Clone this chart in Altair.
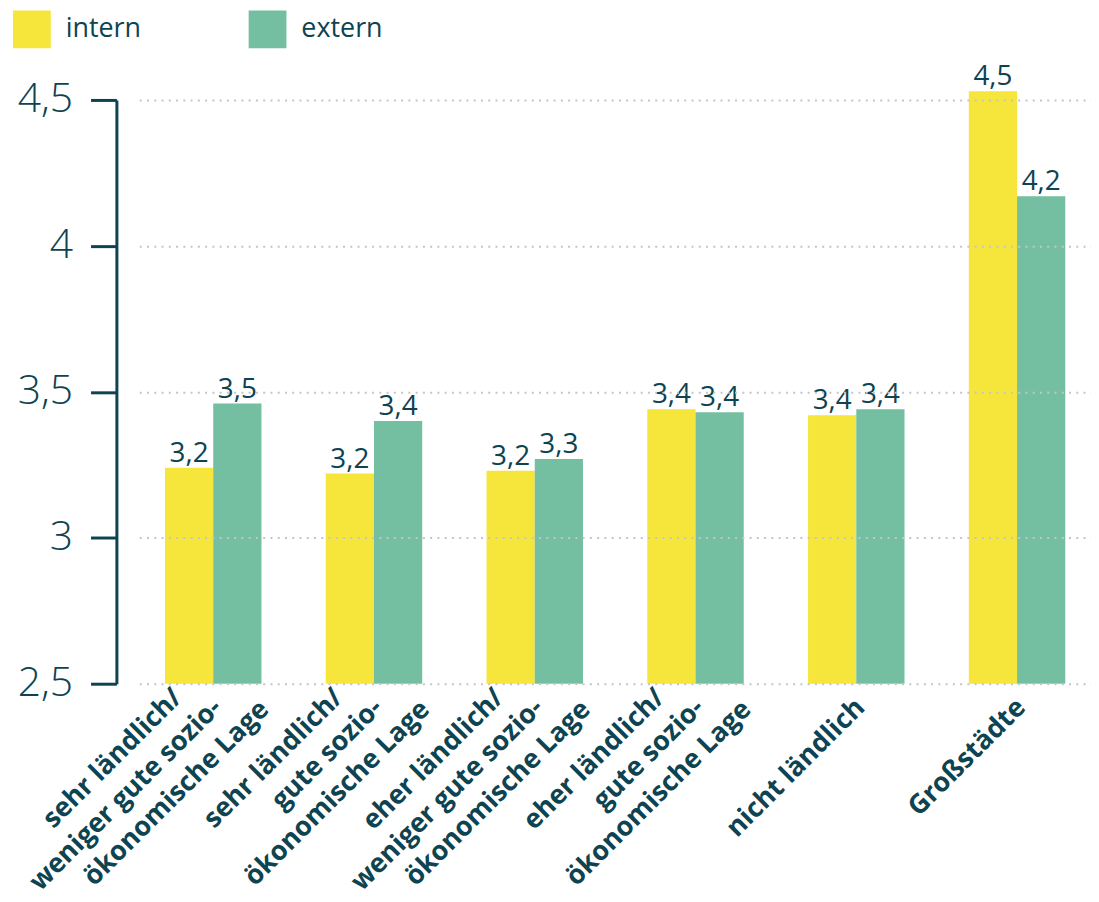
import altair as alt
import pandas as pd

# ---- data ----
label_lines = [
    ["sehr ländlich/", "weniger gute sozio-", "ökonomische Lage"],
    ["sehr ländlich/", "gute sozio-", "ökonomische Lage"],
    ["eher ländlich/", "weniger gute sozio-", "ökonomische Lage"],
    ["eher ländlich/", "gute sozio-", "ökonomische Lage"],
    ["nicht ländlich"],
    ["Großstädte"],
]
categories = [" ".join(l) for l in label_lines]
series = ["intern", "extern"]
intern = [3.24, 3.22, 3.23, 3.44, 3.42, 4.53]
extern = [3.46, 3.40, 3.27, 3.43, 3.44, 4.17]
y_ticks = [2.5, 3, 3.5, 4, 4.5]

colors = ["#F6E53B", "#74BFA1"]
ink = "#0E4351"

rows = []
for c, a, b in zip(categories, intern, extern):
    rows.append({"cat": c, "serie": "intern", "value": a})
    rows.append({"cat": c, "serie": "extern", "value": b})
df = pd.DataFrame(rows)

lrows = []
for c, lines in zip(categories, label_lines):
    if len(lines) == 1:
        lrows.append({"cat": c, "line": 1, "text": lines[0]})
    else:
        for i, t in enumerate(lines):
            lrows.append({"cat": c, "line": i, "text": t})
ldf = pd.DataFrame(lrows)

W, H = 957, 587

xscale = alt.Scale(domain=categories, paddingInner=0.40, paddingOuter=0.16)
x = alt.X("cat:N", sort=categories, scale=xscale, axis=None)
xo = alt.XOffset("serie:N", sort=series, scale=alt.Scale(domain=series, paddingInner=0, paddingOuter=0))
y = alt.Y(
    "value:Q",
    scale=alt.Scale(domain=[2.5, 4.5], nice=False, zero=False),
    axis=alt.Axis(
        values=y_ticks,
        format="~g",
        labelExpr="replace(datum.label, '.', ',')",
        title=None,
        grid=True,
        gridDash=[2, 5.3],
        gridColor="#c2c6c8",
        gridWidth=2,
        domainColor=ink,
        domainWidth=3,
        tickColor=ink,
        tickWidth=3,
        tickSize=26,
        offset=23,
        labelFont="Open Sans",
        labelFontWeight=300,
        labelFontSize=41,
        labelColor=ink,
        labelPadding=18,
        zindex=1,
    ),
)

base = alt.Chart(df)

bars = base.mark_bar(clip=False).encode(
    x=x,
    xOffset=xo,
    y=y,
    y2=alt.datum(2.5),
    color=alt.Color(
        "serie:N",
        sort=series,
        scale=alt.Scale(domain=series, range=colors),
        legend=alt.Legend(
            title=None,
            orient="none",
            direction="horizontal",
            legendX=-127,
            legendY=-90,
            symbolType="square",
            symbolSize=1444,
            symbolStrokeWidth=0,
            symbolOpacity=1,
            labelFont="Open Sans",
            labelFontSize=27,
            labelColor=ink,
            labelOffset=15,
            columnPadding=108,
            padding=0,
        ),
    ),
)

values = base.transform_calculate(
    lbl="replace(format(datum.value, '.1f'), '.', ',')"
).mark_text(
    baseline="alphabetic", align="center", dy=-6, font="Open Sans", fontSize=28, color=ink
).encode(x=x, xOffset=xo, y=y, text="lbl:N")

label_layers = []
offsets = {0: (-32, -18), 1: (-11, 17), 2: (21, 52)}
for i, (ddx, ddy) in offsets.items():
    label_layers.append(
        alt.Chart(ldf)
        .transform_filter(alt.datum.line == i)
        .mark_text(
            angle=315,
            align="right",
            baseline="middle",
            font="Open Sans",
            fontWeight="bold",
            fontSize=27,
            color=ink,
            dx=ddx,
            dy=ddy,
        )
        .encode(x=x, y=alt.value(H), text="text:N")
    )

chart = (
    alt.layer(bars, values, *label_layers)
    .properties(
        width=W,
        height=H,
        autosize=alt.AutoSizeParams(type="none"),
        padding={"left": 132, "top": 90, "right": 0, "bottom": 209},
    )
    .configure_view(stroke=None)
)

chart.save("out.html", embed_options={"renderer": "svg", "actions": False})
